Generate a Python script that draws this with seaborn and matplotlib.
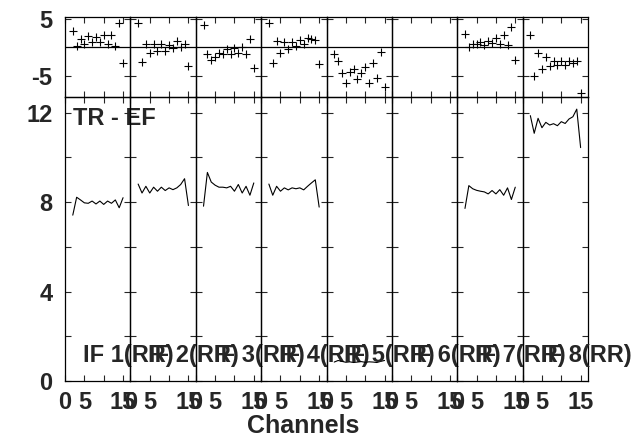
import matplotlib
matplotlib.use("Agg")
import matplotlib.pyplot as plt
from matplotlib.ticker import MultipleLocator
import numpy as np
import pandas as pd
import seaborn as sns

# channels used in every IF
channels = list(range(2, 16))

# TR - EF per IF (bottom row)
if1_line = [7.42, 8.22, 8.10, 7.97, 7.95, 8.05, 7.92, 8.05, 7.90, 8.05, 7.95, 8.10, 7.75, 8.20]
if2_line = [8.81, 8.41, 8.71, 8.41, 8.67, 8.49, 8.67, 8.52, 8.64, 8.56, 8.64, 8.79, 9.05, 7.85]
if3_line = [7.82, 9.33, 8.90, 8.76, 8.67, 8.67, 8.64, 8.71, 8.49, 8.79, 8.41, 8.71, 8.31, 8.86]
if4_line = [8.81, 8.31, 8.71, 8.49, 8.64, 8.55, 8.64, 8.60, 8.64, 8.55, 8.71, 8.86, 9.00, 7.78]
if5_line = [0.85, 0.92, 0.88, 0.84, 0.86, 0.83, 0.85, 0.87, 0.84, 0.86, 0.85, 0.83, 0.88, 0.92]
if6_line = []
if7_line = [7.72, 8.74, 8.60, 8.53, 8.49, 8.46, 8.37, 8.52, 8.37, 8.56, 8.31, 8.64, 8.12, 8.67]
if8_line = [11.87, 11.08, 11.75, 11.33, 11.57, 11.45, 11.51, 11.42, 11.60, 11.52, 11.72, 11.82, 12.16, 10.44]

# residuals per IF (top row)
if1_resid = [2.86, 0.18, 1.35, 0.47, 1.93, 0.82, 1.81, 0.82, 2.22, 0.64, 2.22, 0.18, 4.33, -2.87]
if2_resid = [4.27, -2.69, 0.64, -0.99, 0.64, -0.64, 0.53, -0.64, 0.35, -0.23, 1.11, -0.06, 0.64, -3.27]
if3_resid = [3.86, -1.23, -2.28, -1.70, -1.11, -1.23, -0.41, -1.23, -0.23, -0.99, 0.06, -1.23, 1.35, -3.63]
if4_resid = [4.27, -2.87, 1.11, -1.11, 0.94, -0.41, 0.94, 0.18, 1.23, 0.64, 1.70, 1.52, 1.23, -2.98]
if5_resid = [-1.23, -2.40, -4.50, -6.37, -4.33, -3.86, -5.67, -4.50, -3.45, -6.37, -2.75, -5.50, -0.93, -7.08]
if6_resid = []
if7_resid = [2.40, 0.06, 0.64, 0.64, 0.94, 0.35, 1.11, 0.76, 1.70, 0.47, 2.10, 0.35, 3.57, -2.28]
if8_resid = [2.22, -5.09, -1.11, -3.86, -1.81, -3.33, -2.40, -3.16, -2.46, -3.16, -2.46, -2.75, -2.46, -8.13]

if_labels = ["IF 1(RR)", "IF 2(RR)", "IF 3(RR)", "IF 4(RR)",
             "IF 5(RR)", "IF 6(RR)", "IF 7(RR)", "IF 8(RR)"]

lines = [if1_line, if2_line, if3_line, if4_line, if5_line, if6_line, if7_line, if8_line]
resids = [if1_resid, if2_resid, if3_resid, if4_resid, if5_resid, if6_resid, if7_resid, if8_resid]

sns.set_theme(style="ticks")
plt.rcParams['font.family'] = ['Liberation Sans', 'DejaVu Sans']
plt.rcParams['font.weight'] = 'bold'
plt.rcParams['font.size'] = 17
plt.rcParams['axes.unicode_minus'] = False

fig, axes = plt.subplots(2, 8, figsize=(6.44, 4.38), dpi=100, sharex=True,
                         gridspec_kw={'height_ratios': [80, 284]})
fig.subplots_adjust(left=0.101, right=0.913, top=0.961, bottom=0.130,
                    hspace=0, wspace=0)

for i in range(8):
    ax_top = axes[0, i]
    ax_bot = axes[1, i]
    ax_top.patch.set_visible(False)
    ax_bot.patch.set_visible(False)

    if len(lines[i]) > 0:
        df = pd.DataFrame({'ch': channels, 'val': lines[i], 'res': resids[i]})
        sns.lineplot(data=df, x='ch', y='val', ax=ax_bot, color='black', lw=0.8)
        sns.scatterplot(data=df, x='ch', y='res', ax=ax_top, marker='+', s=35,
                        color='black', linewidth=0.8)

    ax_top.axhline(0, color='black', lw=0.9)

    for ax in (ax_top, ax_bot):
        ax.set_xlim(0, 16.9)
        ax.set_xticks([0, 5, 10, 15])
        ax.set_xlabel('')
        ax.set_ylabel('')
        ax.tick_params(direction='in', top=True, right=True, length=4,
                       width=0.8, which='both', labelsize=17, pad=7)
        for sp in ax.spines.values():
            sp.set_color('black')
            sp.set_linewidth(0.9)

    ax_top.set_ylim(-8.8, 5.3)
    ax_top.set_yticks([-5, 5])
    ax_bot.set_ylim(0, 12.7)
    ax_bot.yaxis.set_major_locator(MultipleLocator(4))
    ax_bot.yaxis.set_minor_locator(MultipleLocator(2))
    ax_bot.set_xticklabels(["0", "5", "", "15"])
    ax_top.tick_params(labelbottom=False)

    if i > 0:
        ax_top.tick_params(labelleft=False)
        ax_bot.tick_params(labelleft=False)

    ax_bot.text(0.275, 1.16, if_labels[i], transform=ax_bot.get_yaxis_transform(),
                fontsize=17, fontweight='bold', ha='left', va='center', zorder=10)

axes[0, 0].tick_params(axis='y', pad=9)
axes[1, 0].tick_params(axis='y', pad=9)
axes[1, 0].text(2.0, 11.75, "TR - EF", fontsize=17, fontweight='bold',
                ha='left', va='center', zorder=10)

fig.text(303 / 644, 1 - 426 / 438, "Channels", fontsize=18, fontweight='bold',
         ha='center', va='center')

plt.savefig("out.png", dpi=100)
plt.close()
